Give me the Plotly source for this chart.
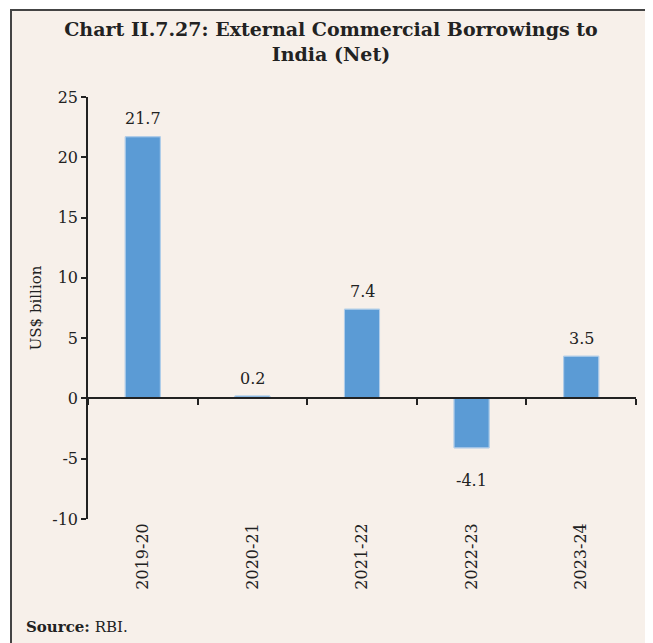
import plotly.graph_objects as go

# DATA
years = ["2019-20", "2020-21", "2021-22", "2022-23", "2023-24"]
ecb_net = [21.7, 0.2, 7.4, -4.1, 3.5]
y_ticks = [-10, -5, 0, 5, 10, 15, 20, 25]
y_tick_text = ["-10", "-5", "0", "5", "10", "15", "20", "25"]

FONT = "DejaVu Serif"
BAR_COLOR = "#5b9bd5"
BG = "#f7f0ea"
INK = "#222"

# the page body adds an 8px margin, so work in window pixels minus that offset
OFF = 8
W, H = 653 - OFF, 643 - OFF
L, R, T, B = 88 - OFF, 653 - 636, 97 - OFF, H - (519 - OFF)
pw, ph = W - L - R, H - T - B


def px_x(p):
    return (p - OFF - L) / pw


def px_y(p):
    return (H - B - (p - OFF)) / ph


fig = go.Figure()

fig.add_trace(go.Bar(
    x=years, y=ecb_net,
    marker=dict(color=BAR_COLOR, line=dict(color="#7fb0de", width=1)),
    width=0.32,
    hoverinfo="x+y",
))

# invisible trace so the bottom label axis has categories
fig.add_trace(go.Bar(
    x=years, y=ecb_net, xaxis="x2",
    marker_color="rgba(0,0,0,0)", hoverinfo="skip", showlegend=False,
))

for yr, v in zip(years, ecb_net):
    fig.add_annotation(
        x=yr, y=v, text=f"{v:.1f}", showarrow=False,
        yshift=18 if v >= 0 else -33,
        font=dict(family=FONT, size=16, color=INK),
    )

zero_pos = (0 - y_ticks[0]) / (y_ticks[-1] - y_ticks[0])

fig.update_layout(
    width=W, height=H,
    margin=dict(l=L, r=R, t=T, b=B, autoexpand=False),
    paper_bgcolor="white",
    plot_bgcolor="rgba(0,0,0,0)",
    showlegend=False,
    bargap=0.68,
    font=dict(family=FONT, size=16, color=INK),
    title=dict(
        text="<b>Chart II.7.27: External Commercial Borrowings to<br>India (Net)</b>",
        x=(331 - OFF) / W, xref="container", xanchor="center",
        y=1 - 28 / H, yanchor="top", automargin=False,
        font=dict(family=FONT, size=19, color=INK),
    ),
    xaxis=dict(
        type="category", categoryarray=years, range=[-0.5, 4.5],
        anchor="free", position=zero_pos, automargin=False,
        showline=True, linecolor=INK, linewidth=1.5,
        ticks="outside", tickson="boundaries", ticklen=6, tickcolor=INK, tickwidth=1.5,
        showticklabels=False, showgrid=False, zeroline=False,
    ),
    xaxis2=dict(
        type="category", categoryarray=years, range=[-0.5, 4.5],
        overlaying="x", anchor="y", side="bottom", automargin=False,
        showline=False, ticks="", showgrid=False, zeroline=False,
        tickangle=-90, ticklabelstandoff=0,
        tickfont=dict(family=FONT, size=16, color=INK),
    ),
    yaxis=dict(
        range=[y_ticks[0], y_ticks[-1]], tickvals=y_ticks, ticktext=y_tick_text,
        automargin=False,
        showline=True, linecolor=INK, linewidth=1.5,
        ticks="outside", ticklen=5, tickcolor=INK, tickwidth=1.5,
        showgrid=False, zeroline=False,
        tickfont=dict(family=FONT, size=16, color=INK),
        title=dict(text="US$ billion", font=dict(family=FONT, size=15, color=INK), standoff=7),
    ),
    shapes=[dict(
        type="rect", xref="paper", yref="paper", layer="below",
        x0=px_x(11), x1=px_x(651), y0=px_y(660), y1=px_y(10),
        fillcolor=BG, line=dict(color="#444", width=2),
    )],
)

fig.add_annotation(
    xref="paper", yref="paper", x=px_x(24), y=px_y(627),
    xanchor="left", yanchor="middle", showarrow=False,
    text="<b>Source:</b> RBI.",
    font=dict(family=FONT, size=15, color=INK),
)

fig.write_html("out.html")
